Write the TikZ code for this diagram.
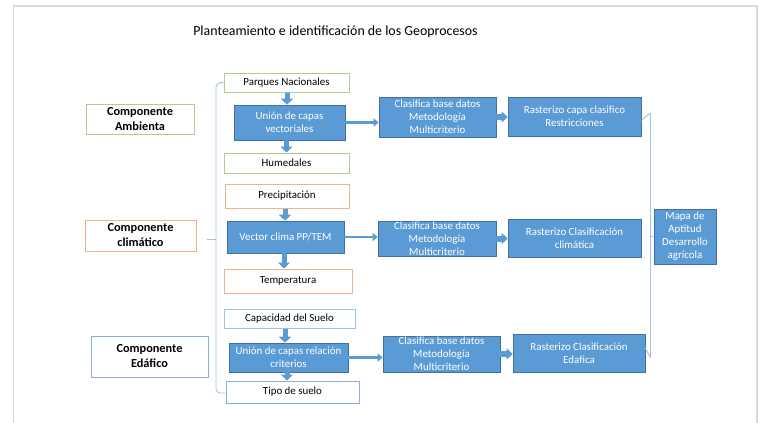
\documentclass[tikz,border=0pt]{standalone}
\usepackage{fontspec}
\setmainfont{Carlito}
\usetikzlibrary{arrows.meta}
\definecolor{obl}{HTML}{5B9BD5}
\definecolor{obd}{HTML}{41719C}
\definecolor{ogr}{HTML}{A9D18E}
\definecolor{oor}{HTML}{F4B183}
\definecolor{olb}{HTML}{9DC3E6}
\definecolor{osl}{HTML}{8FAADC}
\definecolor{frm}{HTML}{D9D9D9}
\tikzset{
  bx/.style={rectangle, inner sep=0pt, align=center, font=\fontsize{10.9}{13}\selectfont},
  wbox/.style={bx, fill=white, line width=1pt},
  cbox/.style={wbox, font=\fontsize{12.3}{15}\selectfont\bfseries},
  bbox/.style={bx, fill=obl, draw=obd, line width=0.6pt, text=white},
  tri/.style={bbox, font=\fontsize{10.9}{13}\selectfont},
  downarr/.style={draw=obl, line width=5pt, -{Triangle[length=6pt,width=12pt]}},
  thinarr/.style={draw=obl, line width=2.6pt, -{Triangle[length=5pt,width=8pt]}},
  fatarr/.style={draw=obl, line width=6pt, -{Triangle[length=6pt,width=11pt]}},
  brk/.style={draw=olb, line width=0.9pt},
}
\begin{document}
\begin{tikzpicture}[x=1pt,y=-1pt]
\useasboundingbox (0,0) rectangle (761,423);
\fill[white] (0,0) rectangle (761,423);
% frame
\draw[frm, line width=1.6pt] (13.5,423) -- (13.5,6) -- (757,6) -- (757,423);
% title
\node[font=\fontsize{13.9}{16}\selectfont] (title) at (335.5,32) {Planteamiento e identificación de los Geoprocesos};

% row 1
\node[wbox, draw=ogr, minimum width=125, minimum height=19] (parques) at (286.5,82.5) {Parques Nacionales};
\node[bbox, minimum width=111, minimum height=35] (union1) at (289.5,122.5) {Unión de capas\\vectoriales};
\node[wbox, draw=ogr, minimum width=125, minimum height=20] (hum) at (286.5,163) {Humedales};
\node[cbox, draw=ogr, minimum width=108, minimum height=30] (amb) at (140,119) {Componente\\Ambienta};
\node[tri, minimum width=117, minimum height=40] (clas1) at (437.5,117) {Clasifica base datos\\Metodología\\Multicriterio};
\node[bbox, minimum width=133, minimum height=39] (ras1) at (574.5,116.5) {Rasterizo capa clasifico\\Restricciones};

% row 2
\node[wbox, draw=oor, minimum width=124, minimum height=24] (prec) at (287,196) {Precipitación};
\node[bbox, minimum width=117, minimum height=32] (vec) at (285.5,237) {Vector clima PP/TEM};
\node[wbox, draw=oor, minimum width=128, minimum height=24] (temp) at (288,281) {Temperatura};
\node[cbox, draw=oor, minimum width=111, minimum height=31] (clim) at (140.5,235.5) {Componente\\climático};
\node[tri, minimum width=118, minimum height=35] (clas2) at (437,238.5) {Clasifica base datos\\Metodología\\Multicriterio};
\node[bbox, minimum width=133, minimum height=38] (ras2) at (574.5,238) {Rasterizo Clasificación\\climática};
\node[tri, minimum width=62, minimum height=55] (mapa) at (685,236.5) {Mapa de\\Aptitud\\Desarrollo\\agrícola};

% row 3
\node[wbox, draw=olb, minimum width=131, minimum height=19] (cap) at (289.5,318.5) {Capacidad del Suelo};
\node[bbox, minimum width=119, minimum height=29] (union3) at (288.5,357.5) {Unión de capas relación\\criterios};
\node[wbox, draw=osl, minimum width=133, minimum height=22] (tipo) at (292.5,392) {Tipo de suelo};
\node[cbox, draw=osl, minimum width=117, minimum height=41] (edaf) at (149.5,356.5) {Componente\\Edáfico};
\node[tri, minimum width=117, minimum height=36] (clas3) at (441.5,354) {Clasifica base datos\\Metodología\\Multicriterio};
\node[bbox, minimum width=132, minimum height=38] (ras3) at (579,353) {Rasterizo Clasificación\\Edafica};

% vertical block arrows
\draw[downarr] ([xshift=0.5pt]parques.south) -- ([xshift=0.5pt]parques.south |- union1.north);
\draw[downarr] ([xshift=-3pt]union1.south) -- ([xshift=-3pt]union1.south |- hum.north);
\draw[downarr] ([xshift=-2pt]prec.south) -- ([xshift=-2pt]prec.south |- vec.north);
\draw[downarr] ([xshift=-1.5pt]vec.south) -- ([xshift=-1.5pt]vec.south |- temp.north);
\draw[downarr] ([xshift=-4.5pt]cap.south) -- ([xshift=-4.5pt]cap.south |- union3.north);
\draw[downarr] ([xshift=-1.5pt]union3.south) -- ([xshift=-1.5pt]union3.south |- tipo.north);

% horizontal arrows
\draw[thinarr] (union1.east) -- (union1.east -| clas1.west);
\draw[thinarr] (vec.east) -- (vec.east -| clas2.west);
\draw[thinarr] (union3.east) -- (union3.east -| clas3.west);
\draw[fatarr] (clas1.east) -- (clas1.east -| ras1.west);
\draw[fatarr] (clas2.east) -- (clas2.east -| ras2.west);
\draw[fatarr] (clas3.east) -- (clas3.east -| ras3.west);

% left bracket
\coordinate (lt) at (216,239);
\coordinate (ltick) at (207,239);
\draw[brk, rounded corners=4pt] (parques.west) -- (216,83) -- (216,393) -- (tipo.west |- 0,393);
\draw[brk] (lt) -- (ltick);

% right bracket
\coordinate (rt) at (650.5,236);
\draw[brk, rounded corners=2pt] ([yshift=-4pt]ras1.east) -- (650.5,112.5) -- (650.5,358) -- ([yshift=5pt]ras3.east);
\draw[brk] (rt) -- (mapa.west);
\end{tikzpicture}
\end{document}
